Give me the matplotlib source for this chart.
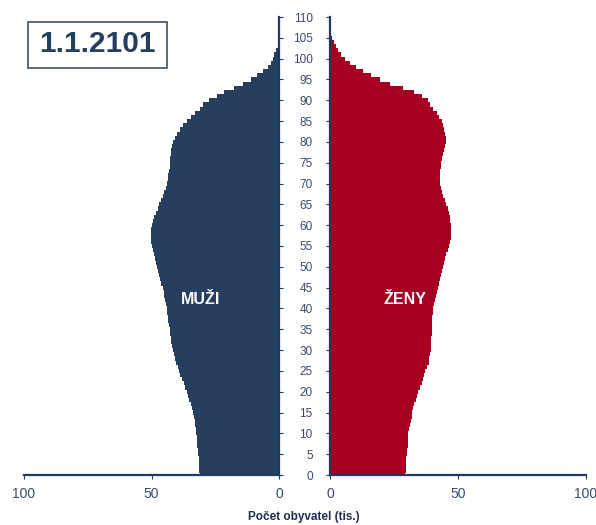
import matplotlib
matplotlib.use("Agg")
import matplotlib.pyplot as plt
from matplotlib.patches import Rectangle
import numpy as np

plt.rcParams['font.family'] = ['Liberation Sans', 'DejaVu Sans']

ages = list(range(0, 111))

men = [31.2, 31.3, 31.4, 31.5, 31.6, 31.8, 32.0, 32.1, 32.3, 32.4,
       32.5, 32.7, 32.9, 33.2, 33.5, 33.8, 34.2, 34.7, 35.2, 35.7,
       36.2, 36.8, 37.5, 38.1, 38.7, 39.2, 39.8, 40.3, 40.8, 41.3,
       41.8, 42.1, 42.3, 42.6, 42.8, 43.0, 43.2, 43.4, 43.5, 43.8,
       44.1, 44.5, 44.8, 45.0, 45.3, 45.7, 46.2, 46.6, 47.0, 47.5,
       47.9, 48.2, 48.5, 48.9, 49.4, 49.8, 50.1, 50.2, 50.3, 50.2,
       50.0, 49.5, 48.9, 48.3, 47.7, 47.2, 46.5, 45.7, 45.0, 44.5,
       44.0, 43.7, 43.5, 43.2, 43.0, 43.0, 42.8, 42.6, 42.4, 42.0,
       41.6, 40.9, 40.1, 39.0, 37.7, 36.2, 34.6, 32.9, 31.0, 29.7,
       27.7, 24.5, 21.5, 17.6, 14.1, 11.1, 8.6, 6.2, 4.3, 3.4,
       2.6, 1.9, 1.3, 0.6, 0.25, 0.1, 0.05, 0.0, 0.0, 0.0,
       0.0]

women = [29.4, 29.5, 29.6, 29.7, 29.8, 30.0, 30.2, 30.3, 30.4, 30.5,
         30.6, 30.9, 31.2, 31.6, 31.9, 32.2, 32.5, 32.9, 33.5, 34.0,
         34.5, 35.3, 35.9, 36.4, 36.9, 37.3, 38.0, 38.5, 38.8, 39.1,
         39.3, 39.4, 39.5, 39.6, 39.7, 39.7, 39.8, 39.9, 40.0, 40.2,
         40.4, 40.7, 41.0, 41.5, 41.9, 42.3, 42.7, 43.1, 43.4, 43.8,
         44.3, 44.6, 45.0, 45.5, 46.0, 46.5, 46.9, 47.2, 47.3, 47.3,
         47.2, 47.0, 46.7, 46.3, 45.9, 45.5, 44.8, 44.2, 43.6, 43.2,
         42.9, 42.9, 42.9, 43.1, 43.3, 43.5, 43.9, 44.3, 44.7, 45.1,
         45.2, 45.2, 44.9, 44.7, 44.3, 43.6, 42.7, 41.9, 40.4, 39.1,
         38.2, 36.1, 32.9, 28.6, 23.4, 19.5, 16.0, 12.8, 10.2, 7.8,
         5.9, 4.3, 3.3, 2.3, 1.6, 0.9, 0.5, 0.3, 0.2, 0.1,
         0.05]

age_ticks = list(range(0, 111, 5))
x_ticks = [0, 50, 100]
title = "1.1.2101"
label_men = "MUŽI"
label_women = "ŽENY"
xlabel = "Počet obyvatel (tis.)"

c_men = "#263f5f"
c_women = "#a50021"
c_axis = "#1f3a5f"
c_text = "#3a4a68"

W, H = 596, 525
fig = plt.figure(figsize=(W / 100, H / 100), dpi=100)

def fx(px):
    return px / W

def fy(py):
    return 1 - py / H

bottom = fy(475)
height = (475 - 17) / H
axL = fig.add_axes([fx(24), bottom, (279.3 - 24) / W, height])
axR = fig.add_axes([fx(330), bottom, (586 - 330) / W, height])

axL.barh(ages, men, height=1.0, color=c_men, linewidth=0, antialiased=False)
axR.barh(ages, women, height=1.0, color=c_women, linewidth=0, antialiased=False)

axL.set_xlim(100, 0)
axR.set_xlim(0, 100)
for ax in (axL, axR):
    ax.set_ylim(0, 110)
    ax.set_xticks(x_ticks)
    ax.set_yticks(age_ticks)
    for s in ax.spines.values():
        s.set_visible(False)
    ax.spines['bottom'].set_visible(True)
    ax.spines['bottom'].set_color(c_axis)
    ax.spines['bottom'].set_linewidth(1.6)
    ax.spines['bottom'].set_zorder(5)
    ax.tick_params(axis='x', direction='out', length=3, width=0.8, color=c_axis,
                   labelsize=10, labelcolor=c_text, pad=6)
    ax.set_facecolor('none')

axL.spines['right'].set_visible(True)
axL.spines['right'].set_color(c_axis)
axL.spines['right'].set_linewidth(1.6)
axL.yaxis.tick_right()
axL.tick_params(axis='y', direction='out', length=3, width=0.8, color=c_axis,
                labelright=False, labelleft=False)

axR.spines['left'].set_visible(True)
axR.spines['left'].set_color(c_axis)
axR.spines['left'].set_linewidth(1.6)
axR.tick_params(axis='y', direction='out', length=3, width=0.8, color=c_axis,
                labelsize=8.5, labelcolor=c_text, pad=9.5)

# title box
fig.patches.append(Rectangle((fx(28), fy(67.7)), (167 - 28) / W, (67.7 - 21.7) / H,
                             transform=fig.transFigure, fill=False,
                             edgecolor="#4a5d7e", linewidth=1.3))
fig.text(fx(97.5), fy(44.5), title, ha='center', va='center', fontsize=21.5,
         fontweight='bold', color="#243f60")

fig.text(fx(201), fy(299.5), label_men, ha='center', va='center', fontsize=11.5,
         fontweight='bold', color='white')
fig.text(fx(405), fy(299.5), label_women, ha='center', va='center', fontsize=11.5,
         fontweight='bold', color='white')

fig.text(fx(304), fy(517), xlabel, ha='center', va='center', fontsize=8.5,
         fontweight='bold', color="#1f2f4f")

fig.savefig("out.png", dpi=100)
